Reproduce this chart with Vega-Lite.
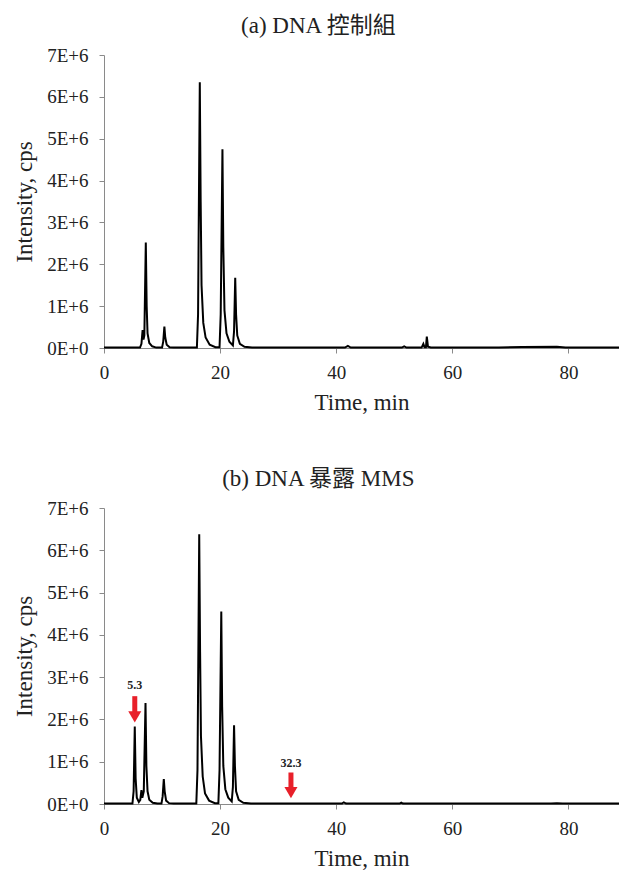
{
  "$schema": "https://vega.github.io/schema/vega-lite/v6.json",
  "padding": {"left": 13, "top": 15, "right": 0, "bottom": 0},
  "background": "white",
  "config": {
    "view": {"stroke": null},
    "font": "Liberation Serif",
    "axis": {"grid": false, "domainColor": "#8a8a8a", "tickColor": "#8a8a8a", "tickSize": 5, "labelFont": "Liberation Serif", "labelFontSize": 19, "labelColor": "#222222", "titleFont": "Liberation Serif", "titleFontSize": 23, "titleFontWeight": "normal", "titleColor": "#222222", "labelFlush": false, "labelOverlap": false},
    "axisX": {"labelPadding": 10, "titlePadding": 9},
    "axisY": {"labelPadding": 11, "titlePadding": 10},
    "title": {"font": "Liberation Serif, Noto Sans CJK TC", "fontSize": 23, "fontWeight": "normal", "color": "#222222", "offset": 8, "anchor": "middle", "frame": "bounds"}
  },
  "datasets": {
    "a": [
      {"time": 0, "intensity": 10000}, {"time": 6.2, "intensity": 10000}, {"time": 6.45, "intensity": 100000}, {"time": 6.65, "intensity": 430000}, {"time": 6.8, "intensity": 200000}, {"time": 6.95, "intensity": 300000}, {"time": 7.2, "intensity": 2520000}, {"time": 7.35, "intensity": 1000000}, {"time": 7.5, "intensity": 350000}, {"time": 7.8, "intensity": 120000}, {"time": 8.3, "intensity": 40000}, {"time": 9.0, "intensity": 10000},
      {"time": 10.0, "intensity": 10000}, {"time": 10.2, "intensity": 150000}, {"time": 10.4, "intensity": 510000}, {"time": 10.55, "intensity": 250000}, {"time": 10.8, "intensity": 80000}, {"time": 11.3, "intensity": 20000}, {"time": 12, "intensity": 10000},
      {"time": 16.0, "intensity": 10000}, {"time": 16.2, "intensity": 800000}, {"time": 16.5, "intensity": 6350000}, {"time": 16.65, "intensity": 3500000}, {"time": 16.8, "intensity": 1500000}, {"time": 17.1, "intensity": 600000}, {"time": 17.5, "intensity": 250000}, {"time": 18.2, "intensity": 80000}, {"time": 19.2, "intensity": 20000},
      {"time": 19.9, "intensity": 20000}, {"time": 20.1, "intensity": 800000}, {"time": 20.4, "intensity": 4750000}, {"time": 20.55, "intensity": 2400000}, {"time": 20.75, "intensity": 900000}, {"time": 21.1, "intensity": 350000}, {"time": 21.6, "intensity": 150000}, {"time": 22.2, "intensity": 60000},
      {"time": 22.4, "intensity": 400000}, {"time": 22.6, "intensity": 1680000}, {"time": 22.75, "intensity": 800000}, {"time": 22.95, "intensity": 300000}, {"time": 23.4, "intensity": 100000}, {"time": 24.2, "intensity": 30000}, {"time": 25.5, "intensity": 10000},
      {"time": 41.5, "intensity": 10000}, {"time": 42, "intensity": 50000}, {"time": 42.5, "intensity": 10000},
      {"time": 51.3, "intensity": 10000}, {"time": 51.7, "intensity": 40000}, {"time": 52.1, "intensity": 10000},
      {"time": 54.7, "intensity": 10000}, {"time": 55.0, "intensity": 100000}, {"time": 55.2, "intensity": 20000}, {"time": 55.45, "intensity": 20000}, {"time": 55.6, "intensity": 270000}, {"time": 55.8, "intensity": 30000}, {"time": 56.3, "intensity": 10000},
      {"time": 68, "intensity": 10000}, {"time": 72, "intensity": 25000}, {"time": 78, "intensity": 30000}, {"time": 79.5, "intensity": 10000}, {"time": 88.7, "intensity": 10000}
    ],
    "b": [
      {"time": 0, "intensity": 10000}, {"time": 4.9, "intensity": 10000}, {"time": 5.1, "intensity": 300000}, {"time": 5.3, "intensity": 1830000}, {"time": 5.45, "intensity": 600000}, {"time": 5.65, "intensity": 150000}, {"time": 6.0, "intensity": 50000},
      {"time": 6.25, "intensity": 100000}, {"time": 6.45, "intensity": 330000}, {"time": 6.6, "intensity": 150000}, {"time": 6.85, "intensity": 300000}, {"time": 7.15, "intensity": 2390000}, {"time": 7.3, "intensity": 900000}, {"time": 7.5, "intensity": 300000}, {"time": 7.8, "intensity": 100000}, {"time": 8.4, "intensity": 30000}, {"time": 9.2, "intensity": 10000},
      {"time": 9.9, "intensity": 10000}, {"time": 10.1, "intensity": 180000}, {"time": 10.3, "intensity": 590000}, {"time": 10.45, "intensity": 300000}, {"time": 10.7, "intensity": 80000}, {"time": 11.2, "intensity": 20000}, {"time": 12, "intensity": 10000},
      {"time": 15.9, "intensity": 10000}, {"time": 16.1, "intensity": 800000}, {"time": 16.4, "intensity": 6380000}, {"time": 16.55, "intensity": 3600000}, {"time": 16.7, "intensity": 1600000}, {"time": 17.0, "intensity": 650000}, {"time": 17.4, "intensity": 250000}, {"time": 18.1, "intensity": 80000}, {"time": 19.1, "intensity": 20000},
      {"time": 19.7, "intensity": 20000}, {"time": 19.9, "intensity": 800000}, {"time": 20.2, "intensity": 4550000}, {"time": 20.35, "intensity": 2300000}, {"time": 20.55, "intensity": 900000}, {"time": 20.9, "intensity": 350000}, {"time": 21.4, "intensity": 150000}, {"time": 22.0, "intensity": 60000},
      {"time": 22.2, "intensity": 400000}, {"time": 22.4, "intensity": 1860000}, {"time": 22.55, "intensity": 900000}, {"time": 22.75, "intensity": 300000}, {"time": 23.2, "intensity": 100000}, {"time": 24.0, "intensity": 30000}, {"time": 25.3, "intensity": 10000},
      {"time": 41.0, "intensity": 10000}, {"time": 41.3, "intensity": 40000}, {"time": 41.7, "intensity": 10000},
      {"time": 50.9, "intensity": 10000}, {"time": 51.2, "intensity": 30000}, {"time": 51.5, "intensity": 10000},
      {"time": 77, "intensity": 10000}, {"time": 78, "intensity": 20000}, {"time": 79, "intensity": 10000}, {"time": 88.7, "intensity": 10000}
    ],
    "arrows": [
      {"time": 5.3, "shaft_top": 2550000, "shaft_bottom": 2100000, "head": 2060000, "label_y": 2810000, "label": "5.3"},
      {"time": 32.2, "shaft_top": 745000, "shaft_bottom": 300000, "head": 270000, "label_y": 980000, "label": "32.3"}
    ]
  },
  "concat": [
    {
      "title": {"text": "(a) DNA 控制組"},
      "width": 515,
      "height": 293,
      "data": {"name": "a"},
      "mark": {"type": "line", "color": "black", "strokeWidth": 2},
      "encoding": {
        "x": {"field": "time", "type": "quantitative", "title": "Time, min", "scale": {"domain": [0, 88.7], "nice": false}, "axis": {"values": [0, 20, 40, 60, 80]}},
        "y": {"field": "intensity", "type": "quantitative", "title": "Intensity, cps", "scale": {"domain": [0, 7000000], "nice": false}, "axis": {"values": [0, 1000000, 2000000, 3000000, 4000000, 5000000, 6000000, 7000000], "labelExpr": "datum.value == 0 ? '0E+0' : format(datum.value / 1000000, 'd') + 'E+6'"}}
      }
    },
    {
      "title": {"text": "(b) DNA 暴露 MMS"},
      "width": 515,
      "height": 296,
      "layer": [
        {
          "data": {"name": "b"},
          "mark": {"type": "line", "color": "black", "strokeWidth": 2},
          "encoding": {
            "x": {"field": "time", "type": "quantitative", "title": "Time, min", "scale": {"domain": [0, 88.7], "nice": false}, "axis": {"values": [0, 20, 40, 60, 80]}},
            "y": {"field": "intensity", "type": "quantitative", "title": "Intensity, cps", "scale": {"domain": [0, 7000000], "nice": false}, "axis": {"values": [0, 1000000, 2000000, 3000000, 4000000, 5000000, 6000000, 7000000], "labelExpr": "datum.value == 0 ? '0E+0' : format(datum.value / 1000000, 'd') + 'E+6'"}}
          }
        },
        {
          "data": {"name": "arrows"},
          "mark": {"type": "rule", "color": "#e8202a", "strokeWidth": 5},
          "encoding": {
            "x": {"field": "time", "type": "quantitative"},
            "y": {"field": "shaft_top", "type": "quantitative"},
            "y2": {"field": "shaft_bottom"}
          }
        },
        {
          "data": {"name": "arrows"},
          "mark": {"type": "point", "shape": "triangle-down", "filled": true, "color": "#e8202a", "size": 170, "opacity": 1},
          "encoding": {
            "x": {"field": "time", "type": "quantitative"},
            "y": {"field": "head", "type": "quantitative"}
          }
        },
        {
          "data": {"name": "arrows"},
          "mark": {"type": "text", "font": "Liberation Serif", "fontSize": 12, "fontWeight": "bold", "color": "#222222", "baseline": "middle"},
          "encoding": {
            "x": {"field": "time", "type": "quantitative"},
            "y": {"field": "label_y", "type": "quantitative"},
            "text": {"field": "label"}
          }
        }
      ]
    }
  ],
  "columns": 1,
  "spacing": 54
}
